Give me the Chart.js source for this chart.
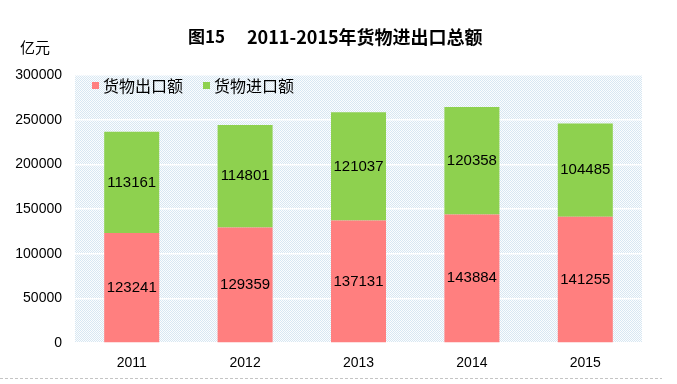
<!DOCTYPE html>
<html lang="zh">
<head>
<meta charset="UTF-8">
<title>2011-2015年货物进出口总额</title>
<script src="https://cdn.jsdelivr.net/npm/chart.js"></script>
<style>
  html, body { margin: 0; padding: 0; background: #fff; }
  #wrap { width: 677px; height: 384px; }
</style>
</head>
<body>
<div id="wrap"><canvas id="chart" width="677" height="384"></canvas></div>
<script>
// data
const years = ['2011', '2012', '2013', '2014', '2015'];
const exportValues = [123241, 129359, 137131, 143884, 141255];
const importValues = [113161, 114801, 121037, 120358, 104485];
const seriesNames = ['货物出口额', '货物进口额'];
const yTicks = [0, 50000, 100000, 150000, 200000, 250000, 300000];

const cjk = '"Noto Sans CJK SC", "Noto Sans", sans-serif';
const latin = '"Liberation Sans", Arial, sans-serif';

// dotted light-blue background like the original
function makePattern(ctx) {
    const p = document.createElement('canvas');
    p.width = 2; p.height = 2;
    const c = p.getContext('2d');
    c.fillStyle = '#fbfdfe';
    c.fillRect(0, 0, 2, 2);
    c.fillStyle = '#d8e7f2';
    c.fillRect(0, 0, 1, 1);
    c.fillRect(1, 1, 1, 1);
    return ctx.createPattern(p, 'repeat');
}

const extras = {
    id: 'extras',
    beforeDraw(chart) {
        const { ctx, chartArea: a } = chart;
        ctx.save();
        ctx.fillStyle = makePattern(ctx);
        ctx.fillRect(a.left, a.top, a.right - a.left, a.bottom - a.top);
        ctx.restore();
    },
    afterDraw(chart) {
        const ctx = chart.ctx;
        ctx.save();
        // title
        ctx.fillStyle = '#000';
        ctx.font = 'bold 17px ' + cjk;
        ctx.textBaseline = 'middle';
        ctx.textAlign = 'left';
        ctx.fillText('图15', 188, 37);
        ctx.font = 'bold 18px ' + cjk;
        ctx.fillText('2011-2015年货物进出口总额', 247, 37);
        // unit
        ctx.font = '15px ' + cjk;
        ctx.fillText('亿元', 20, 47);
        // legend
        const colors = ['#ff7f7f', '#8ed14f'];
        const xs = [92, 203];
        ctx.font = '16px ' + cjk;
        seriesNames.forEach((n, i) => {
            ctx.fillStyle = colors[i];
            ctx.fillRect(xs[i], 82, 7, 7);
            ctx.fillStyle = '#000';
            ctx.fillText(n, xs[i] + 11, 86);
        });
        // value labels
        ctx.font = '15px ' + latin;
        ctx.textAlign = 'center';
        chart.data.datasets.forEach((ds, di) => {
            chart.getDatasetMeta(di).data.forEach((bar, i) => {
                const mid = (bar.y + bar.base) / 2;
                ctx.fillText(String(ds.data[i]), bar.x, mid);
            });
        });
        // dashed rule at the bottom
        ctx.strokeStyle = '#c4c4c4';
        ctx.lineWidth = 1;
        ctx.setLineDash([3, 2]);
        ctx.beginPath();
        ctx.moveTo(0, 378.5);
        ctx.lineTo(662, 378.5);
        ctx.stroke();
        ctx.restore();
    }
};

new Chart(document.getElementById('chart'), {
    type: 'bar',
    data: {
        labels: years,
        datasets: [
            { label: seriesNames[0], data: exportValues, backgroundColor: '#ff7f7f' },
            { label: seriesNames[1], data: importValues, backgroundColor: '#8ed14f' }
        ]
    },
    options: {
        responsive: false,
        animation: false,
        layout: { padding: { left: 0, right: 35, top: 75, bottom: 0 } },
        datasets: { bar: { categoryPercentage: 1, barPercentage: 0.485 } },
        plugins: {
            legend: { display: false },
            title: { display: false },
            tooltip: { enabled: false }
        },
        scales: {
            x: {
                stacked: true,
                grid: { display: false },
                border: { display: false },
                ticks: { color: '#000', font: { family: latin, size: 14 }, padding: 4 },
                afterFit(s) { s.height = 41; }
            },
            y: {
                stacked: true,
                min: 0,
                max: 300000,
                afterBuildTicks(s) { s.ticks = yTicks.map(v => ({ value: v })); },
                grid: { color: '#ffffff', lineWidth: 1.5, drawTicks: false },
                border: { display: false },
                ticks: {
                    color: '#000',
                    font: { family: latin, size: 14 },
                    padding: 13,
                    callback: v => String(v)
                },
                afterFit(s) { s.width = 75; }
            }
        }
    },
    plugins: [extras]
});
</script>
</body>
</html>
